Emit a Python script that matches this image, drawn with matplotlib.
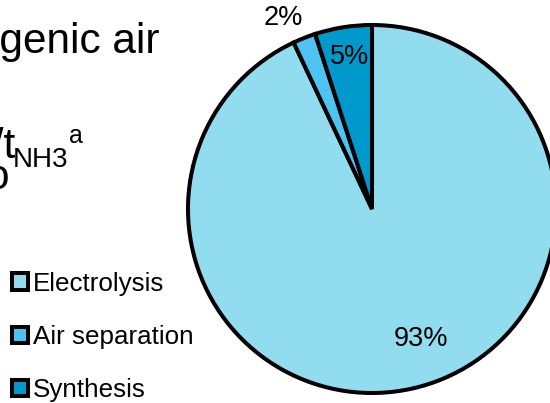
import matplotlib
matplotlib.use("Agg")
import matplotlib.pyplot as plt

plt.rcParams['font.family'] = ['Liberation Sans', 'DejaVu Sans']

categories = ["Electrolysis", "Air separation", "Synthesis"]
shares = [93, 2, 5]
pct_labels = ["93%", "2%", "5%"]
colors = ["#92DCF0", "#4DC3F2", "#0099CC"]

W, H = 550, 403
fig = plt.figure(figsize=(W / 100, H / 100), dpi=100)

cx, cy, r = 372, 209, 184
ax = fig.add_axes([(cx - r) / W, 1 - (cy + r) / H, 2 * r / W, 2 * r / H])
wedges, _ = ax.pie(shares, colors=colors, startangle=90, counterclock=False,
                   radius=1.0,
                   wedgeprops=dict(edgecolor="black", linewidth=2.9))
ax.set_xlim(-1, 1)
ax.set_ylim(-1, 1)
ax.set_aspect("equal")
ax.axis("off")

# percentage labels
label_pos = [(0.266, -0.707), (-0.484, 1.04), (-0.12, 0.826)]
for lab, (x, y) in zip(pct_labels, label_pos):
    ax.text(x, y, lab, ha="center", va="center", fontsize=19.5,
            color="black", clip_on=False)

# cropped title text on the left
fig.text(159 / W, 1 - 53 / H, "Cryogenic air", ha="right", va="baseline",
         fontsize=30.5)
fig.text(15 / W, 1 - 158 / H, "kWh/t", ha="right", va="baseline", fontsize=30.5)
fig.text(13 / W, 1 - 167 / H, "NH3", ha="left", va="baseline", fontsize=20)
fig.text(69 / W, 1 - 143 / H, "a", ha="left", va="baseline", fontsize=18)
fig.text(9 / W, 1 - 189 / H, "o", ha="right", va="baseline", fontsize=30.5)

leg = fig.legend(wedges, categories, loc="upper left",
                 bbox_to_anchor=(12 / W, 1 - 272 / H),
                 frameon=False, fontsize=18.7, handlelength=0.62,
                 handleheight=0.62, handletextpad=0.2, labelspacing=1.12,
                 borderpad=0, borderaxespad=0)

fig.savefig("out.png", dpi=100)
